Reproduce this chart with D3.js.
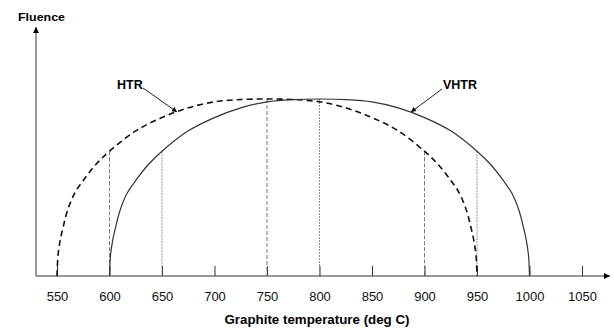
<!DOCTYPE html>
<html><head><meta charset="utf-8">
<script src="https://cdn.jsdelivr.net/npm/d3@7"></script>
<style>html,body{margin:0;padding:0;background:#fff;}svg{display:block;}</style>
</head><body>
<svg id="c" width="614" height="329"></svg>
<script>
const tickValues = [550,600,650,700,750,800,850,900,950,1000,1050];
const htrTemp = [550,551,553,556,560,567,575,587,600,625,650,675,700,725,750,775,800,825,850,875,900,913,925,933,940,944,947,949,950];
const htrFluence = [0,12,20,28,37,47,54,63,70.5,82,89.5,95,98.4,99.7,100,99.7,98.4,95,89.5,82,70.5,63,54,47,37,28,20,12,0];
const vhtrTemp = [600,601,603,606,610,617,625,637,650,675,700,725,750,775,800,825,850,875,900,925,950,963,975,983,990,994,997,999,1000];
const vhtrFluence = [0,12,20,28,37,47,54,63,70.5,82,89.5,95,98.4,99.7,100,99.7,98.4,95,89.5,82,70.5,63,54,47,37,28,20,12,0];
const htrMarkTemp = [600,750,900];
const htrMarkFluence = [70.5,100,70.5];
const vhtrMarkTemp = [650,800,950];
const vhtrMarkFluence = [70.5,100,70.5];

const svg = d3.select("#c");
const x = d3.scaleLinear().domain([550,1050]).range([57,582]);
const y = d3.scaleLinear().domain([0,100]).range([276,99]);

const defs = svg.append("defs");
defs.append("marker").attr("id","ah").attr("viewBox","0 0 10 10").attr("refX",10).attr("refY",5)
  .attr("markerWidth",7).attr("markerHeight",6).attr("markerUnits","userSpaceOnUse").attr("orient","auto")
  .append("path").attr("d","M0,0L10,5L0,10z").attr("fill","#000");
defs.append("marker").attr("id","sa").attr("viewBox","0 0 10 10").attr("refX",10).attr("refY",5)
  .attr("markerWidth",6).attr("markerHeight",5).attr("markerUnits","userSpaceOnUse").attr("orient","auto")
  .append("path").attr("d","M0,0L10,5L0,10z").attr("fill","#000");

// axes lines
svg.append("line").attr("x1",36).attr("y1",y(0)).attr("x2",610).attr("y2",y(0))
  .attr("stroke","#333").attr("stroke-width",1).attr("marker-end","url(#ah)");
svg.append("line").attr("x1",36).attr("y1",y(0)).attr("x2",36).attr("y2",27)
  .attr("stroke","#333").attr("stroke-width",1).attr("marker-end","url(#ah)");

const xAxis = d3.axisBottom(x).tickValues(tickValues).tickFormat(d3.format("d"))
  .tickSizeInner(-10).tickSizeOuter(0).tickPadding(16);
const gx = svg.append("g").attr("transform",`translate(0,${y(0)})`).call(xAxis);
gx.select(".domain").remove();
gx.selectAll(".tick line").attr("stroke","#333");
gx.selectAll(".tick text").attr("font-family","Liberation Sans, Arial, sans-serif").attr("font-size",13).attr("fill","#111");

// marker verticals
htrMarkTemp.forEach((t,i)=>{
  svg.append("line").attr("x1",x(t)).attr("x2",x(t)).attr("y1",y(htrMarkFluence[i])).attr("y2",y(0))
    .attr("stroke","#666").attr("stroke-width",0.9).attr("stroke-dasharray","4,2");
});
vhtrMarkTemp.forEach((t,i)=>{
  svg.append("line").attr("x1",x(t)).attr("x2",x(t)).attr("y1",y(vhtrMarkFluence[i])).attr("y2",y(0))
    .attr("stroke","#777").attr("stroke-width",0.8).attr("stroke-dasharray","2,1");
});

const line = d3.line().x(d=>x(d[0])).y(d=>y(d[1])).curve(d3.curveCatmullRom.alpha(0.5));
svg.append("path").datum(htrTemp.map((t,i)=>[t,htrFluence[i]])).attr("d",line)
  .attr("fill","none").attr("stroke","#111").attr("stroke-width",1.6).attr("stroke-dasharray","6,4");
svg.append("path").datum(vhtrTemp.map((t,i)=>[t,vhtrFluence[i]])).attr("d",line)
  .attr("fill","none").attr("stroke","#333").attr("stroke-width",1.2);

// labels
svg.append("text").attr("x",18).attr("y",21).text("Fluence")
  .attr("font-family","Liberation Sans, Arial, sans-serif").attr("font-weight","bold").attr("font-size",11)
  .attr("textLength",47).attr("lengthAdjust","spacingAndGlyphs");
svg.append("text").attr("x",317).attr("y",324).attr("text-anchor","middle").text("Graphite temperature (deg C)")
  .attr("font-family","Liberation Sans, Arial, sans-serif").attr("font-weight","bold").attr("font-size",12)
  .attr("textLength",185).attr("lengthAdjust","spacingAndGlyphs");
svg.append("text").attr("x",117).attr("y",89).text("HTR")
  .attr("font-family","Liberation Sans, Arial, sans-serif").attr("font-weight","bold").attr("font-size",12.5);
svg.append("text").attr("x",443).attr("y",89).text("VHTR")
  .attr("font-family","Liberation Sans, Arial, sans-serif").attr("font-weight","bold").attr("font-size",12.5);
svg.append("line").attr("x1",143).attr("y1",88).attr("x2",177).attr("y2",112)
  .attr("stroke","#222").attr("stroke-width",1).attr("marker-end","url(#sa)");
svg.append("line").attr("x1",442).attr("y1",89).attr("x2",411).attr("y2",112)
  .attr("stroke","#222").attr("stroke-width",1).attr("marker-end","url(#sa)");
</script>
</body></html>
